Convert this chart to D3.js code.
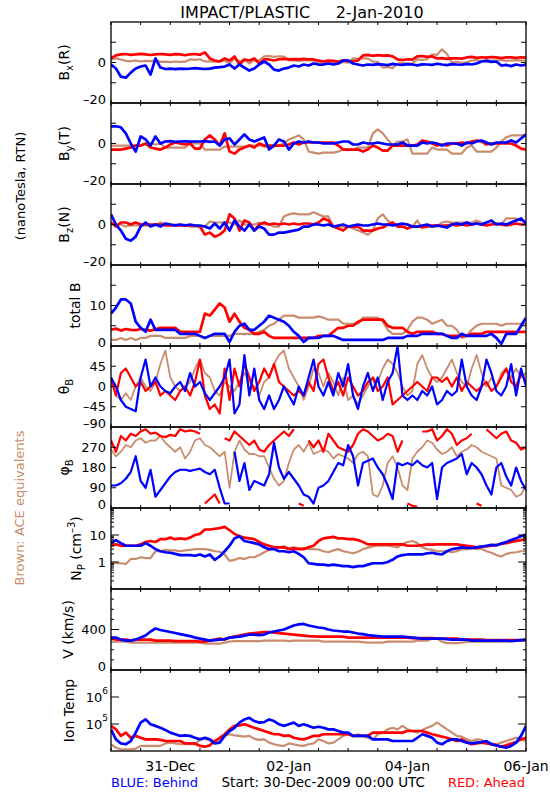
<!DOCTYPE html>
<html><head><meta charset="utf-8">
<script src="https://cdn.jsdelivr.net/npm/d3@7"></script>
<style>body{margin:0;background:#fff} text{font-family:"DejaVu Sans",sans-serif}</style>
</head><body><svg id="c" width="550" height="800"></svg>
<script>
// time grid: hours since 30-Dec-2009 00:00 UTC, every 2 hours
const hours = d3.range(0, 169, 2);
const dayLabels = ["2009-12-31","2010-01-02","2010-01-04","2010-01-06"];

const bxBlue = [-1,-3,-7,-7.5,-5,-3,-2,-1.5,-6,2,-2.5,
 -3.2,-3,-3.3,-3,-3.1,-3,-2.8,-3,-3.2,-3,
 -2.5,-2.3,-2,-1,-3,-1,-2.5,-4,-3,-1,
 0.5,-1,-3.5,-4,-3,-2.5,-1.5,-2,-1,-1.5,
 -0.5,-1,-1,-0.5,-1,-0.5,1,1,-0.5,-1,
 -1.5,-1,-1.2,-0.8,-1,-1.3,-0.7,-1,-1.2,-0.8,
 -1,-1.4,-0.9,-1,-1.2,-0.6,-1,-1.3,-0.8,-1,
 -1.1,-0.7,-1,-0.5,0.5,0.8,0.3,0.5,-1.5,-1.2,
 -1.8,-1,-1.5,-1];
const bxRed = [2,3.5,4,4.2,3.8,4,4.3,4,3.7,4,4.2,
 4,3.8,4.1,4,3.6,4,4.2,3.8,5,2,
 1,0.5,2,1,3,-1,1.5,1,2,-0.5,
 1.5,1.5,1,1.6,1.8,1.5,1.7,1.5,1.8,1.6,
 1.5,1,0.5,1,0.8,0.5,1,0.7,0.6,1,
 3.5,3.8,3.3,3.6,3.4,3.5,3,1.5,1.2,1.6,
 1.4,3,3.2,2.8,3,2,2.2,1.8,2,2.1,
 1.9,2.5,2.8,2.3,2.6,2.4,2.7,2.5,2.2,2.6,
 2.5,2.3,2.6,2.4];
const bxBrown = [1.5,2,1.5,0.8,0.6,1,0.5,0.8,0.7,1,0.3,
 0.4,0.2,0.5,0.3,0.4,1.5,1.3,1.6,0.5,0.6,
 0.4,0.5,1,-0.5,2,0.5,1.5,-0.5,1.2,1,
 3,3.2,2.8,3.1,2.9,1,1.2,0.8,1,1.1,
 0.9,0,0.2,-0.2,0.1,0,0.3,-0.1,2,1.8,
 2.1,1.9,0.5,0.3,-2.5,-2.2,-2.8,-0.5,-0.3,-0.6,
 -0.4,1.5,1.3,1.6,4,3.8,6.5,4.2,0,0.3,
 -0.2,0.1,1,1.2,0.8,1.1,0.9,1,1.3,0.8,
 1,1.2,0.9,1];

const byBlue = [8.5,8.5,8,5,0,-4,3.5,2,-1,3.5,0,
 1,1.2,0.8,1,1.1,0.9,1,1,1.2,0.8,
 1,-1,2,2.5,-0.5,2,4.5,2,1,2,
 3,-3,-1,2,1,-3,0,1,0.5,1,
 0.5,0.5,0,0,0,0.5,1,1,-0.5,-0.5,
 0.5,0,0,0.5,0,-0.5,-0.5,-0.5,0.5,-1,
 -1,-1,0.5,0,0.5,0,-1,0,0,0,
 -1,0.5,0,1,1.5,0.5,-0.5,0.5,0.5,0.5,
 1.5,0.5,2.5,4.5];
const byRed = [-3,-3,-3,-2.5,-2,-1,-1,0,-2,-2.5,-3,
 -2,-0.5,0.5,0,-0.5,0,-2.5,-2.5,2,4,
 2,-1,5,-4,-5,-3,-2,-1,-2,0,
 -1,-1,-1,-1,-1,-0.5,0.5,-0.5,0.5,0.5,
 0.5,0.5,0.5,0.5,0.5,-1,-3,-3,-3,-3,
 -4,-3,-1,-2,-3.5,-3.5,-1,-1,-1,-1,
 -1,-0.5,1.5,1,0,-1,-0.5,-1,0,0,
 0.5,0,1,1.5,1,-0.5,0,0,0,0,
 0,-1,-2.5,-3];
const byBrown = [-1,-1,-1,-1,-1,-1,-1,-0.5,0,-0.5,0,
 -2,-2,-2,-2,-2,0,0,0,-3,-3,
 -3,-3,-1.5,-1.5,-1.5,-1.5,-1.5,-1,-1,-1,
 -1.5,-1.5,-1.5,-1,0,2,3,4,2,-4,
 -4.5,-5,-4.5,-4.5,-4.5,-4,-3,-3,-3,-2,
 -2,-2,5,7,5,2,-1,1,1,2,
 -5,-5,-5,-5,-2,-3,-3,-3,-5,-5,
 -5,-2,-1,-4,-4,-4,-4,-2,1,3,
 4,4,4,4];

const bzBlue = [5,0,-3,-7,-8,-6,-1,1,-1,0,-1,
 0.5,0,-0.5,0,-0.5,0,-0.5,-0.5,-1,-2,
 0.5,-2,1,-3,2,-1,-3,0,-3,-1,
 -2,-5,-5,-4,-4,-3.5,-3,-2.5,-1,-1,
 0,0,-0.5,0,-1,-0.5,0,-1,-0.5,0,
 -0.5,-0.5,0,0.5,0,0,-0.5,0,0.5,0,
 -1,-1,-0.5,0,-1,-0.5,-1,-1.5,0,0.5,
 0,1,0,0.5,0,1,2,0,0.5,0,
 1,2,3,0.5];
const bzRed = [1,-1,1,1,0,1,0,0,0,0,0,
 -0.5,-0.5,-0.5,-0.5,-0.5,-0.5,-0.5,-1,-5,-4,
 -6,-5,-3,5,3,-3,2,1,-3,0,
 1,0,0.5,0,0.5,0,0.5,0,0.5,0.5,
 0,1,3,2,-1,-2,-3,-1,-1,-1,
 -3,-3,-3,-2,-1.5,0,1,-1,-1,-2,
 -1,-1,-1,-1,-0.5,-0.5,-0.5,-0.5,0,-0.5,
 0,-0.5,0,0.5,0,-0.5,0,0.5,0,-0.5,
 0,0.5,0,0];
const bzBrown = [0,0,0,-1,-0.5,-0.5,-0.5,-0.5,-0.5,-0.5,1,
 0,0,0,0,0,-1,-1,-1,-1,1.5,
 1,1,1,1,0,2,0,0,0,1,
 0,0,-1,-1,4,5,5.5,5,5,5,
 6,5,4,4,-1,-1,-1,-1,-2,-3,
 -4,-5,-3,3,5,2,0,0,0,0,
 -1,2,-2,-1,-1,-1,1,1.5,1,1,
 1,1,1,2,1,0,0,0,0,3,
 3,3,2,1];

const totBlue = [8,9.5,11.5,11.5,10.5,6,4.5,3.5,6.5,4,4,
 4,4,4,3,3,3,3,2.5,2,2.5,
 3,3,3,1,3.5,5,5.5,4,4,5,
 6,7.5,7,6.5,6,5,3.5,2.5,1,2,
 2,2,2.5,2.5,2.5,2,1.5,1.5,1.5,1.5,
 1.5,1.5,1.5,1.5,1.5,2,2,2,2,2.5,
 2.5,2.5,3,3,3,3,3,2.5,2,2,
 3,2.5,2.5,2.5,2.5,2.5,3,2,0.5,3,
 3,3,5,7];
const totRed = [4,4.3,3.8,4.2,4,3.9,4.2,4,3.8,4.1,4.5,
 4.5,4.5,4.5,3.5,3.5,3.5,3.5,3.5,8,7.5,
 9,10.5,9.5,6,8,6,4.5,4,3,3,
 3.5,2.5,2,2,2,2,2,2,2,2,
 2,2.5,2.5,2.5,3.5,4.5,4.5,5,5,6,
 6.5,6.5,6.5,6.5,6.5,5,4.5,4.5,4.5,3.5,
 3,3.5,3.5,3.5,3.5,3,3,2.5,2.5,2.5,
 2.5,2.5,3,3,3,3.5,3.5,3.5,3.5,3.5,
 3.5,3.5,3.5,3.5];
const totBrown = [1.5,1.5,2,1.5,2,1.5,2,2,2.5,2.5,2.5,
 2,2,2,2,2,2.5,2.5,2.5,2,2.5,
 2.5,2.5,2.5,2.5,3,3,3,3,3,3.5,
 4,5,5.5,6.5,7.5,7.5,7.5,7,7,7,
 7,7.3,7,6.5,6.5,6.5,5.5,5.5,5.5,5.5,
 7,7,7,7,6,4,3,3,3,4,
 6,7,7,6.5,5.5,6,6.5,5,5,4,
 2,2.5,4,5,5.5,5.5,5.5,5.5,5,5.5,
 5.5,5.5,5.5,5.5];

const thBlue = [20,0,-30,-45,-50,-55,20,60,0,20,0,
 -10,-15,0,10,-10,30,0,10,-15,-30,
 -15,0,20,60,-60,-40,70,-20,40,-30,
 -50,-20,-50,-30,0,-20,-40,0,-20,20,
 60,0,-20,10,-20,30,0,50,-20,-50,
 0,30,-10,20,-30,10,30,90,-20,-30,
 -20,-30,-10,-20,0,-40,-30,-10,-20,-10,
 60,0,-20,-30,0,60,30,-10,-20,0,
 50,-20,40,0];
const thRed = [20,-20,30,40,20,0,10,-10,0,10,-20,
 -10,-20,-30,-10,0,-20,10,60,-20,-50,
 -40,-60,40,-30,40,0,50,20,-10,10,
 40,20,50,10,0,-10,-20,-10,-20,10,
 -10,50,60,20,-10,10,-20,20,0,-20,
 -10,10,20,-10,0,20,-40,-30,-20,-10,
 0,10,0,-10,20,20,10,20,0,20,
 -10,10,0,-10,0,10,-10,0,20,40,
 10,0,30,10];
const thBrown = [10,-20,-30,-15,-30,0,20,0,-10,10,50,
 80,20,0,-10,0,10,40,60,30,20,
 -10,-20,10,0,-10,10,30,10,0,-20,
 10,20,50,70,80,40,20,0,-30,0,
 40,30,0,30,10,-20,20,-30,-20,-40,
 -20,0,20,10,40,60,50,30,0,-20,
 -10,50,70,40,20,10,20,40,60,30,
 10,0,40,70,30,0,20,0,30,40,
 20,40,20,30];

const phBlue = [100,100,110,130,160,230,120,90,170,50,80,
 110,140,160,170,170,165,170,175,160,150,
 170,90,20,20,250,120,200,80,120,110,
 100,150,290,180,130,160,130,100,60,50,
 20,90,100,120,160,200,190,280,230,100,
 200,210,220,180,150,100,40,200,190,200,
 190,210,190,180,200,40,180,200,210,220,
 240,150,200,180,150,100,60,180,200,140,
 100,180,120,80];
const phRed = [300,250,320,300,330,320,340,350,330,335,320,
 315,325,320,350,340,345,340,330,20,40,
 60,20,310,300,340,320,300,280,300,260,
 250,280,300,320,340,320,350,20,10,300,
 270,300,250,330,300,270,260,250,280,330,
 350,340,320,300,310,330,320,250,300,20,
 10,5,340,340,350,300,320,350,330,280,
 300,310,330,20,10,350,330,310,330,340,
 300,290,260,270];
const phBrown = [260,230,250,280,270,300,310,290,300,300,320,
 290,270,250,270,220,250,300,310,280,270,
 250,230,250,90,250,300,260,240,240,230,
 230,180,130,100,120,200,260,280,250,290,
 240,250,260,250,220,240,230,220,200,240,
 250,230,60,50,100,200,230,180,100,80,
 220,250,270,300,290,260,240,250,270,230,
 250,260,280,270,250,240,230,220,100,90,
 80,50,60,100];

const npBlue = [5,6.5,5,4,4,4,4,5,4,3,2.5,
 2.3,2.2,2,1.8,1.8,1.8,1.7,1.9,1.6,1.9,
 1.2,1.6,2.5,4,7.5,9,6,5.5,5,4.5,
 3.5,3,3,2.5,2.5,2.3,2.5,2,1.5,0.9,
 0.85,0.8,0.8,0.75,0.8,0.75,0.7,0.7,0.65,0.7,
 0.7,0.8,0.9,0.9,0.9,1.0,1.2,1.6,1.8,1.9,
 1.9,1.9,1.9,2.1,2.2,2.0,1.9,2.5,3.0,3.2,
 3.5,3.3,3.3,3.5,3.7,4,4.3,4.2,4.8,5.5,
 6.5,7.5,9,10.5];
const npRed = [4,4.5,4,4,4,4,4.5,5.5,6,5.5,7,
 7,8,7,7.5,7,8,10,11,16,16,
 17,18,20,15,11,9,8,7.5,7,5.5,
 4.5,4,3.5,3.5,3.5,3,3.2,3,3,3.5,
 4,6,7.5,8,8.5,7.5,7.5,7,7,6.5,
 5.5,4.5,4.5,4.5,4.5,4.5,4.5,4.5,4.5,4,
 4,4,4.2,4.5,4.4,4.5,4.5,4.5,4.5,4.5,
 4.2,4,3.8,3.5,3.7,3.8,4,4.2,4.8,5,
 5.5,6,6.5,7];
const npBrown = [0.9,0.9,0.9,0.85,1.3,1.3,1.5,1.4,1.4,2.5,2.5,
 2.8,2.7,2.7,2.5,2.7,2.8,3,3,3,2.8,
 2.5,2.4,1.9,1.1,1.2,1.4,1.3,1.5,1.5,1.8,
 2.3,2.8,3.5,3.5,3.8,3.2,3.5,3.2,3.3,3,
 3,2.9,2.5,2.3,2.7,3,2.5,2.3,2.1,2.4,
 3,3.4,3.8,4,4,4,3.8,3.5,4.5,5.5,
 6,5,3.5,3,2.8,2.5,2.5,2.5,2.3,2.5,
 3,3,3.2,3,3.1,2.5,2.2,1.8,1.6,2,
 2.2,2.3,2.5,2.5];

const vBlue = [320,320,300,290,290,300,320,340,380,410,395,
 385,375,365,355,345,335,320,310,300,290,
 295,300,305,320,325,330,340,350,350,345,
 350,370,380,390,400,420,440,450,455,440,
 430,420,415,400,390,385,380,380,370,360,
 355,345,340,335,330,330,330,330,330,325,
 320,315,310,310,310,310,310,305,300,300,
 300,300,290,290,290,290,290,290,290,290,
 285,290,295,300];
const vRed = [320,300,300,300,290,300,300,300,300,290,290,
 290,290,285,285,285,285,285,280,280,290,
 300,310,300,320,330,340,350,360,365,370,
 375,375,370,365,360,355,350,345,340,335,
 332,330,330,330,330,330,330,320,320,320,
 320,320,320,320,320,320,320,320,320,320,
 315,315,315,315,315,310,310,310,310,310,
 300,300,300,300,300,295,295,295,295,295,
 295,295,295,295];
const vBrown = [280,280,280,280,270,270,270,270,270,270,270,
 270,270,270,270,270,270,270,270,260,260,
 260,260,270,280,285,285,285,285,285,285,
 290,290,290,290,290,285,290,290,290,290,
 290,290,280,280,280,280,280,280,280,280,
 275,270,270,270,270,280,280,280,280,280,
 280,290,290,290,310,310,280,265,265,265,
 270,280,280,280,280,280,280,280,280,280,
 290,290,290,290];

// ion temperature, log10(T / K)
const tBlueLog = [4.80,4.43,4.28,4.25,4.37,4.68,5.05,5.17,4.99,4.93,4.86,
 4.78,4.68,4.62,4.56,4.58,4.56,4.49,4.43,4.49,4.43,
 4.28,4.31,4.56,4.74,4.86,5.05,5.17,5.23,5.11,5.05,
 5.07,5.17,5.11,4.99,4.93,4.99,5.05,4.93,4.99,4.93,
 4.86,4.90,4.86,4.80,4.80,4.74,4.68,4.68,4.56,4.56,
 4.56,4.56,4.43,4.43,4.43,4.43,4.37,4.37,4.37,4.37,
 4.37,4.49,4.62,4.56,4.49,4.31,4.25,4.37,4.43,4.43,
 4.37,4.31,4.28,4.31,4.33,4.37,4.25,4.21,4.16,4.12,
 4.19,4.31,4.56,4.93];
const tRedLog = [4.93,4.80,4.56,4.68,4.49,4.56,4.49,4.43,4.43,4.43,4.41,
 4.37,4.37,4.37,4.37,4.28,4.28,4.28,4.19,4.16,4.21,
 4.37,4.49,4.62,4.80,4.93,4.95,4.99,4.93,4.86,4.80,
 4.74,4.68,4.62,4.62,4.56,4.58,4.49,4.45,4.43,4.49,
 4.56,4.56,4.62,4.62,4.62,4.62,4.62,4.62,4.56,4.56,
 4.56,4.56,4.68,4.68,4.68,4.68,4.68,4.68,4.68,4.74,
 4.74,4.74,4.74,4.68,4.62,4.58,4.53,4.49,4.43,4.37,
 4.43,4.33,4.25,4.28,4.31,4.28,4.25,4.21,4.16,4.21,
 4.28,4.33,4.43,4.49];
const tBrownLog = [4.25,4.12,4.06,4.06,4.06,4.09,4.19,4.19,4.19,4.19,4.19,
 4.28,4.31,4.28,4.25,4.25,4.25,4.25,4.43,4.45,4.41,
 4.37,4.43,4.56,4.62,4.58,4.56,4.53,4.56,4.45,4.41,
 4.43,4.31,4.25,4.21,4.19,4.28,4.25,4.21,4.19,4.25,
 4.28,4.43,4.37,4.28,4.31,4.43,4.56,4.62,4.56,4.62,
 4.56,4.49,4.43,4.62,4.68,4.80,4.86,4.80,4.93,4.80,
 4.74,4.68,4.78,4.86,4.93,5.05,4.93,4.80,4.68,4.56,
 4.53,4.43,4.37,4.43,4.41,4.33,4.28,4.25,4.31,4.37,
 4.43,4.49,4.43,4.37];

const COL = {brown:"#c98c6e", red:"#ff0000", blue:"#0000ff"};
const svg = d3.select("#c");
const X0 = 111, X1 = 526, TOP = 22, PH = 81;
const start = Date.UTC(2009, 11, 30);
const x = d3.scaleUtc().domain([new Date(start), new Date(start + 7*864e5)]).range([X0, X1]);
const tt = h => new Date(start + h*3600e3);

const minorLog = [];
[0.1,1,10].forEach(d => { for (let k=2;k<=9;k++) minorLog.push(k*d); });

const panels = [
 {title:[["B"],["x","sub"],["(R)"]], tx:69, type:"lin", domain:[-20,20], series:[bxBrown,bxRed,bxBlue],
  major:[-10,0,10], majorLen:5, minor:[], labels:[[0,"0"],[-20,"–20"]]},
 {title:[["B"],["y","sub"],["(T)"]], tx:69, type:"lin", domain:[-20,20], series:[byBrown,byRed,byBlue],
  major:[-10,0,10], majorLen:5, minor:[], labels:[[0,"0"],[-20,"–20"]]},
 {title:[["B"],["z","sub"],["(N)"]], tx:69, type:"lin", domain:[-20,20], series:[bzBrown,bzRed,bzBlue],
  major:[-10,0,10], majorLen:5, minor:[], labels:[[0,"0"],[-20,"–20"]]},
 {title:[["total B"]], tx:80, type:"lin", domain:[0,20], series:[totBrown,totRed,totBlue],
  major:[5,10,15], majorLen:5, minor:[], labels:[[10,"10"],[0,"0"]]},
 {title:[["θ"],["B","sub"]], tx:69, type:"lin", domain:[-90,90], series:[thBrown,thRed,thBlue], angle:true,
  major:[-45,0,45], majorLen:5, minor:[], labels:[[45,"45"],[0,"0"],[-45,"–45"],[-90,"–90"]]},
 {title:[["φ"],["B","sub"]], tx:69, type:"lin", domain:[0,360], series:[phBrown,phRed,phBlue], wrap:true, angle:true,
  major:[90,180,270], majorLen:5, minor:[], labels:[[270,"270"],[180,"180"],[90,"90"],[0,"0"]]},
 {title:[["N"],["P","sub"],[" (cm"],["–3","sup"],[")"]], tx:81, type:"log", domain:[0.1,100], series:[npBrown,npRed,npBlue],
  major:[1,10], majorLen:8, minor:minorLog, labels:[[10,"10"],[1,"1"]]},
 {title:[["V (km/s)"]], tx:73, type:"lin", domain:[0,800], series:[vBrown,vRed,vBlue],
  major:[400], majorLen:8, minor:[100,200,300,500,600,700], labels:[[400,"400"],[0,"0"]]},
 {title:[["Ion Temp"]], tx:74, type:"log", domain:[1e4,1e7], series:[tBrownLog,tRedLog,tBlueLog], fromLog:true,
  major:[1e5,1e6], majorLen:8, minor:[], labels:[[1e6,["10","6"]],[1e5,["10","5"]]]}
];

const defs = svg.append("defs");
const xTicks = d3.utcHour.every(12).range(new Date(start), new Date(start + 7*864e5 + 1));

panels.forEach((p, i) => {
  const top = TOP + i*PH, bot = top + PH;
  const y = (p.type === "log" ? d3.scaleLog() : d3.scaleLinear()).domain(p.domain).range([bot, top]);
  const g = svg.append("g");
  defs.append("clipPath").attr("id", "clip"+i).append("rect")
    .attr("x", X0).attr("y", top).attr("width", X1-X0).attr("height", PH);
  const lg = g.append("g").attr("clip-path", `url(#clip${i})`);
  const line = d3.line().x(d => x(tt(d.t))).y(d => y(d.v));
  const names = ["brown","red","blue"];
  p.series.forEach((vals, k) => {
    const segs = [[]];
    vals.forEach((v, j) => {
      if (p.wrap && j > 0 && Math.abs(v - vals[j-1]) > 180) segs.push([]);
      segs[segs.length-1].push({t: hours[j], v: p.fromLog ? Math.pow(10, v) : v});
    });
    const w = p.angle ? (k===0 ? 1.8 : 2.2) : (k===0 ? 2.2 : 2.7);
    segs.forEach(s => {
      lg.append("path").attr("d", line(s)).attr("fill","none")
        .attr("stroke", COL[names[k]]).attr("stroke-width", w)
        .attr("stroke-linejoin","round");
    });
  });
  // frame
  g.append("rect").attr("x", X0).attr("y", top).attr("width", X1-X0).attr("height", PH)
    .attr("fill","none").attr("stroke","#000").attr("stroke-width",1.3);
  // x ticks (inward, top and bottom)
  xTicks.forEach(d => {
    const xx = x(d);
    g.append("line").attr("x1",xx).attr("x2",xx).attr("y1",top).attr("y2",top+3).attr("stroke","#000");
    g.append("line").attr("x1",xx).attr("x2",xx).attr("y1",bot).attr("y2",bot-3).attr("stroke","#000");
  });
  // y ticks both sides
  const yt = (v, len) => {
    const yy = y(v);
    g.append("line").attr("x1",X0).attr("x2",X0+len).attr("y1",yy).attr("y2",yy).attr("stroke","#000");
    g.append("line").attr("x1",X1).attr("x2",X1-len).attr("y1",yy).attr("y2",yy).attr("stroke","#000");
  };
  p.major.forEach(v => yt(v, p.majorLen));
  p.minor.forEach(v => yt(v, 3));
  // tick labels
  p.labels.forEach(([v, lab]) => {
    let yy = y(v);
    if (Math.abs(yy - bot) < 1) yy -= 4;
    const t = g.append("text").attr("x",106).attr("y",yy).attr("text-anchor","end")
      .attr("dominant-baseline","central").attr("font-size",13);
    if (Array.isArray(lab)) {
      t.attr("x",108);
      t.append("tspan").text(lab[0]);
      t.append("tspan").attr("dy",-6).attr("font-size",9).text(lab[1]);
    } else t.text(lab);
  });
  // axis title
  const tg = g.append("g").attr("transform", `translate(${p.tx},${top + PH/2}) rotate(-90)`);
  const tx = tg.append("text").attr("text-anchor","middle").attr("font-size",14);
  let shift = 0;
  p.title.forEach(([s, kind]) => {
    const target = kind === "sub" ? 4 : kind === "sup" ? -6 : 0;
    const ts = tx.append("tspan").text(s);
    if (target - shift !== 0) ts.attr("dy", target - shift);
    shift = target;
    if (kind) ts.attr("font-size", 10);
  });
});

// x axis date labels
const fmt = d3.utcFormat("%d-%b");
dayLabels.forEach(s => {
  const d = new Date(s + "T00:00:00Z");
  svg.append("text").attr("x", x(d)).attr("y", 771).attr("text-anchor","middle")
    .attr("font-size",14).text(fmt(d));
});

// title
svg.append("text").attr("x",302).attr("y",18).attr("text-anchor","middle").attr("font-size",16)
  .style("white-space","pre").text("IMPACT/PLASTIC     2-Jan-2010");

// side labels
svg.append("text").attr("transform","translate(25,186) rotate(-90)").attr("text-anchor","middle")
  .attr("font-size",13).text("(nanoTesla, RTN)");
svg.append("text").attr("transform","translate(24,508) rotate(-90)").attr("text-anchor","middle")
  .attr("font-size",13).attr("fill",COL.brown).text("Brown: ACE equivalents");

// footer
svg.append("text").attr("x",111).attr("y",787).attr("font-size",13).attr("fill",COL.blue).text("BLUE: Behind");
svg.append("text").attr("x",425).attr("y",787).attr("text-anchor","end").attr("font-size",13.5).text("Start: 30-Dec-2009 00:00 UTC");
svg.append("text").attr("x",525).attr("y",787).attr("text-anchor","end").attr("font-size",13).attr("fill",COL.red).text("RED: Ahead");
</script></body></html>
